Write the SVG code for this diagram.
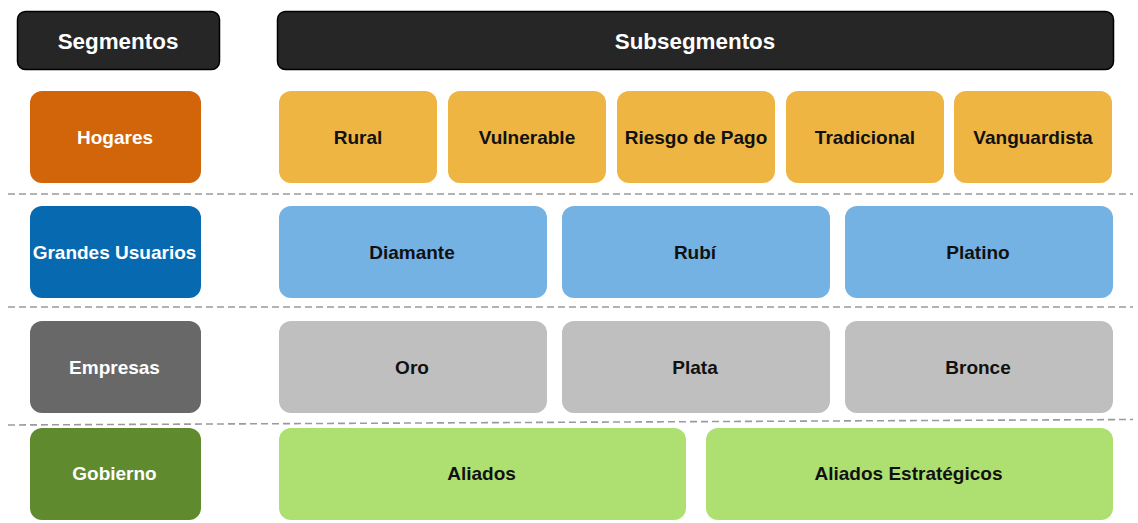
<svg xmlns="http://www.w3.org/2000/svg" width="1138" height="523" viewBox="0 0 1138 523">
<style>
text{font-family:"Liberation Sans",Arial,sans-serif;font-weight:bold;text-anchor:middle;dominant-baseline:central}
.hdr rect{fill:#262626;stroke:#000;stroke-width:1.5}
.hdr text{fill:#fff;font-size:22.4px}
.seg text{fill:#fff;font-size:19px}
.sub text{fill:#111;font-size:19px}
.sep{stroke:#9a9a9a;stroke-width:1.6;stroke-dasharray:7 4;fill:none}
</style>
<rect width="1138" height="523" fill="#fff"/>
<g id="hdr-segmentos" class="hdr"><rect x="17.5" y="11.5" width="202" height="58" rx="8"/><text x="118" y="41">Segmentos</text></g>
<g id="hdr-subsegmentos" class="hdr"><rect x="277.5" y="11.5" width="836" height="58" rx="8"/><text x="695" y="41">Subsegmentos</text></g>
<g id="separators">
<line class="sep" x1="8" y1="194" x2="1133" y2="194"/>
<line class="sep" x1="8" y1="307" x2="1133" y2="307"/>
<line class="sep" x1="8" y1="425" x2="1133" y2="419.5"/>
</g>
<g id="seg-hogares" class="seg"><rect x="30" y="91" width="171" height="92" rx="12" fill="#D2640A"/><text x="115" y="137">Hogares</text></g>
<g id="seg-grandes" class="seg"><rect x="30" y="206" width="171" height="92" rx="12" fill="#0769B0"/><text x="114.5" y="252">Grandes Usuarios</text></g>
<g id="seg-empresas" class="seg"><rect x="30" y="321" width="171" height="92" rx="12" fill="#686868"/><text x="114.5" y="367">Empresas</text></g>
<g id="seg-gobierno" class="seg"><rect x="30" y="428" width="171" height="92" rx="12" fill="#5F8A2E"/><text x="114.5" y="473">Gobierno</text></g>
<g id="sub-rural" class="sub"><rect x="279" y="91" width="158" height="92" rx="12" fill="#EFB542"/><text x="358" y="137">Rural</text></g>
<g id="sub-vulnerable" class="sub"><rect x="448" y="91" width="158" height="92" rx="12" fill="#EFB542"/><text x="527" y="137">Vulnerable</text></g>
<g id="sub-riesgo" class="sub"><rect x="617" y="91" width="158" height="92" rx="12" fill="#EFB542"/><text x="696" y="137">Riesgo de Pago</text></g>
<g id="sub-tradicional" class="sub"><rect x="786" y="91" width="158" height="92" rx="12" fill="#EFB542"/><text x="865" y="137">Tradicional</text></g>
<g id="sub-vanguardista" class="sub"><rect x="954" y="91" width="158" height="92" rx="12" fill="#EFB542"/><text x="1033" y="137">Vanguardista</text></g>
<g id="sub-diamante" class="sub"><rect x="279" y="206" width="268" height="92" rx="12" fill="#75B2E4"/><text x="412" y="252">Diamante</text></g>
<g id="sub-rubi" class="sub"><rect x="562" y="206" width="268" height="92" rx="12" fill="#75B2E4"/><text x="695" y="252">Rubí</text></g>
<g id="sub-platino" class="sub"><rect x="845" y="206" width="268" height="92" rx="12" fill="#75B2E4"/><text x="978" y="252">Platino</text></g>
<g id="sub-oro" class="sub"><rect x="279" y="321" width="268" height="92" rx="12" fill="#BFBFBF"/><text x="412" y="367">Oro</text></g>
<g id="sub-plata" class="sub"><rect x="562" y="321" width="268" height="92" rx="12" fill="#BFBFBF"/><text x="695" y="367">Plata</text></g>
<g id="sub-bronce" class="sub"><rect x="845" y="321" width="268" height="92" rx="12" fill="#BFBFBF"/><text x="978" y="367">Bronce</text></g>
<g id="sub-aliados" class="sub"><rect x="279" y="428" width="407" height="92" rx="12" fill="#AEDF71"/><text x="481.5" y="473">Aliados</text></g>
<g id="sub-aliados-estrategicos" class="sub"><rect x="706" y="428" width="407" height="92" rx="12" fill="#AEDF71"/><text x="908.5" y="473">Aliados Estratégicos</text></g>
</svg>
